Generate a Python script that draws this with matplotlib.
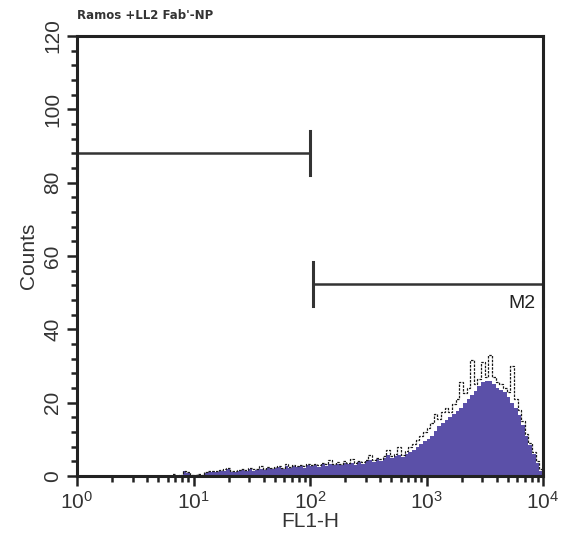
import numpy as np
import matplotlib
matplotlib.use("Agg")
import matplotlib.pyplot as plt
from matplotlib.ticker import MultipleLocator, LogLocator, NullFormatter

plt.rcParams['font.family'] = ['Liberation Sans', 'DejaVu Sans']

# histogram channels: 32 per decade, 10^0 .. 10^4
edges_log = np.linspace(0, 4, 129)

# sample (filled)
fill_counts = [0] * 29 + [1.3, 0.8, 0.0] + [
    0.2, 0.3, 0.2, 0.8, 1.2, 1.3, 1.2, 1.4, 1.5, 2.0, 1.2, 1.0, 1.4, 1.6, 1.3, 1.8,
    1.5, 1.7, 2.0, 1.6, 2.2, 1.9, 2.1, 2.4, 2.0, 2.6, 2.2, 2.8, 2.4, 2.7, 2.3, 2.9,
    2.6, 3.0, 2.5, 3.2, 2.8, 3.4, 3.0, 3.3, 2.9, 3.6, 3.2, 3.5, 3.1, 3.8, 3.4, 4.0,
    4.4, 3.9, 4.6, 4.2, 5.0, 5.6, 5.0, 5.4, 5.8, 5.2, 6.0, 6.6, 7.2, 8.0, 8.8, 9.5,
    10.0, 11.0, 12.2, 13.5, 14.5, 15.2, 16.0, 17.0, 17.8, 18.6, 19.8, 21.0, 22.0, 23.2, 24.5, 25.5,
    26.0, 25.8, 25.0, 24.0, 23.5, 23.0, 21.5, 20.0, 18.5, 16.5, 14.0, 11.0, 8.5, 6.0, 3.5, 1.5]

# overlay (dotted outline with spikes)
line_counts = [0] * 26 + [0.6, 0.0, 0.3, 1.5, 1.0, 0.3] + [
    0.4, 0.5, 0.4, 1.0, 1.5, 1.5, 1.4, 1.7, 1.8, 2.3, 1.5, 1.3, 1.7, 1.9, 1.6, 2.3,
    1.8, 2.0, 2.6, 1.9, 2.5, 2.2, 2.4, 2.8, 2.3, 3.2, 2.5, 3.1, 2.7, 3.0, 2.6, 3.3,
    3.0, 3.4, 2.9, 3.6, 3.3, 4.5, 3.4, 3.7, 3.3, 4.0, 3.6, 4.6, 3.5, 4.2, 3.8, 4.5,
    5.8, 4.3, 5.0, 4.7, 5.5, 7.0, 5.5, 6.0, 7.8, 5.8, 6.8, 7.8, 8.6, 9.8, 10.8, 12.0,
    13.0, 14.5, 17.0, 15.5, 17.5, 18.5, 17.5, 19.5, 21.0, 25.5, 22.5, 24.0, 31.5, 25.0, 26.5, 31.0,
    27.0, 33.0, 27.0, 25.5, 25.0, 24.0, 23.0, 30.0, 21.0, 18.0, 15.0, 11.5, 9.0, 6.5, 4.0, 1.8]

# markers: (start, end, level)
m1 = (1, 100, 88)
m2 = (107, 10000, 52.3)

edges = 10 ** edges_log

fig = plt.figure(figsize=(5.63, 5.45), dpi=100)
ax = fig.add_axes([0.1368, 0.1266, 0.8277, 0.8074])

ax.stairs(fill_counts, edges, fill=True, color='#5b50a8', linewidth=0)
ax.stairs(line_counts, edges, color='#1a1a1a', linewidth=0.9, baseline=None,
          linestyle=(0, (2, 1)))

for (a, b, lvl) in (m1, m2):
    ax.plot([a, b], [lvl, lvl], color='#333333', lw=1.8, clip_on=False)
    ax.plot([a, a], [lvl - 6, lvl + 6], color='#333333', lw=2.2, clip_on=False)
    ax.plot([b, b], [lvl - 6, lvl + 6], color='#333333', lw=2.2, clip_on=False)
ax.text(10 ** 3.935, 47, 'M2', ha='right', va='center', fontsize=14, color='#222222')

ax.set_xscale('log')
ax.set_xlim(1, 10000)
ax.set_ylim(0, 120)
ax.xaxis.set_major_locator(LogLocator(base=10, numticks=10))
ax.xaxis.set_minor_locator(LogLocator(base=10, subs=np.arange(2, 10), numticks=20))
ax.xaxis.set_minor_formatter(NullFormatter())
ax.yaxis.set_major_locator(MultipleLocator(20))
ax.yaxis.set_minor_locator(MultipleLocator(4))

for s in ax.spines.values():
    s.set_linewidth(2.2)
    s.set_color('#222222')
ax.tick_params(which='both', direction='out', width=1.8, color='#222222')
ax.tick_params(which='major', length=7, labelsize=15, colors='#222222', labelcolor='#333333')
ax.tick_params(which='minor', length=4)
for lab in ax.get_yticklabels():
    lab.set_rotation(90)
    lab.set_va('center')

ax.set_xlabel('FL1-H', fontsize=15, color='#333333', labelpad=0)
ax.set_ylabel('Counts', fontsize=15, color='#333333', labelpad=4)

fig.text(0.136, 0.972, "Ramos +LL2 Fab'-NP", fontsize=8.5, fontweight='bold',
         family=['DejaVu Sans'], color='#333333', va='center')

fig.savefig('out.png', dpi=100)
